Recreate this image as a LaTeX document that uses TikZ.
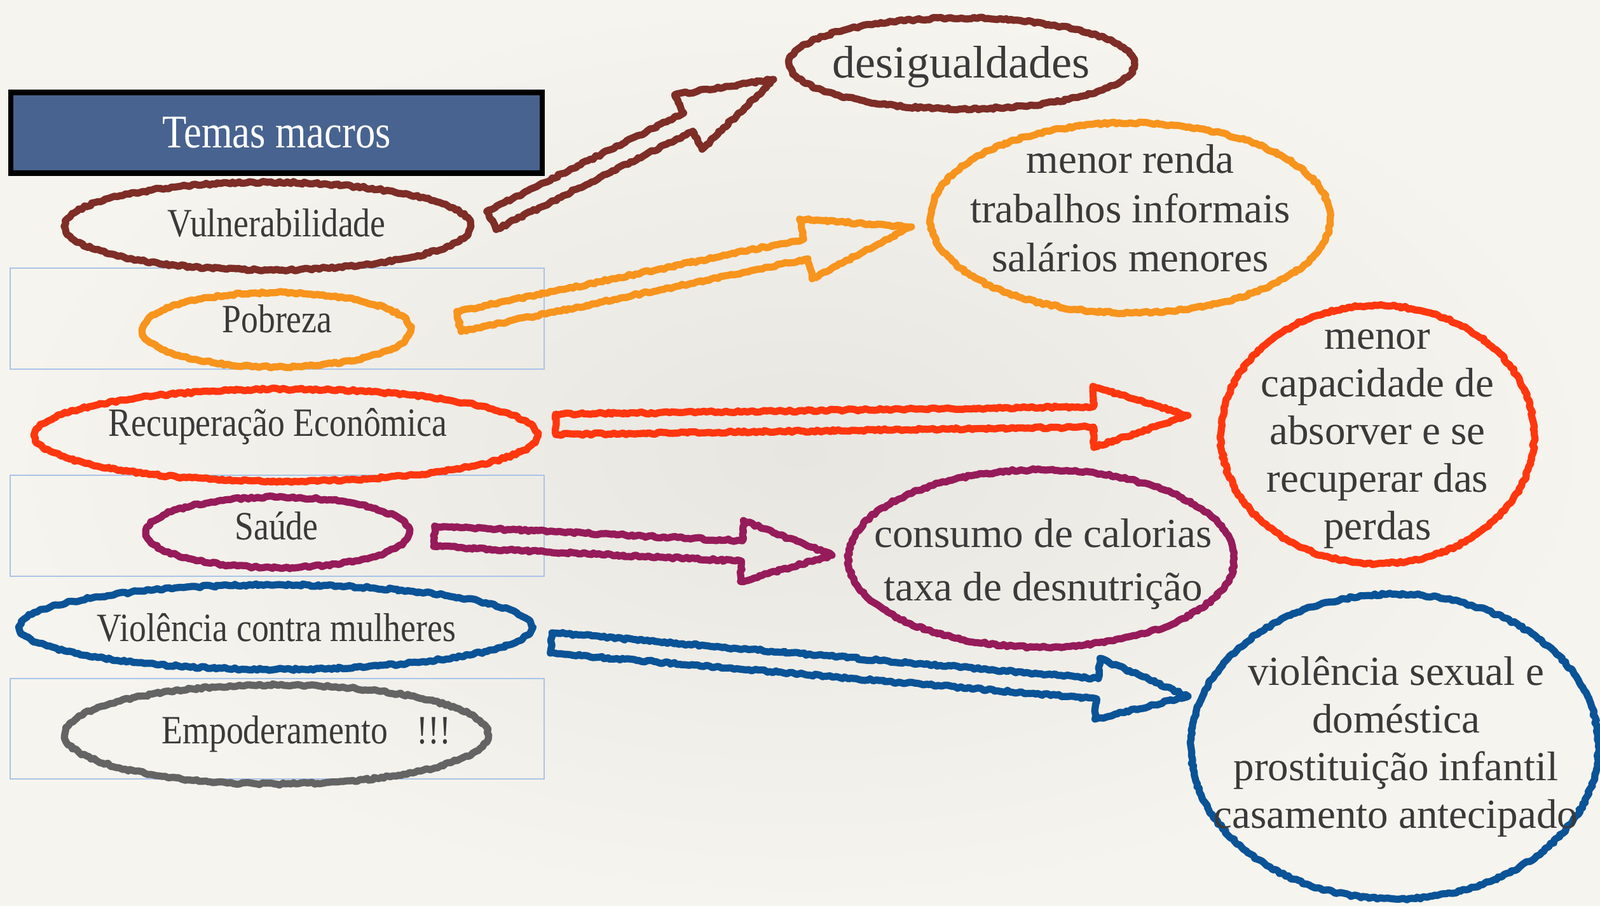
\documentclass[tikz,border=0pt]{standalone}
\usepackage{fontspec}
\setmainfont{Liberation Serif}
\newfontfamily\narrowserif[FakeStretch=0.85]{Liberation Serif}
\usetikzlibrary{calc,shapes.geometric,decorations.pathmorphing}
\definecolor{brick}{RGB}{126,45,39}
\definecolor{amber}{RGB}{247,148,29}
\definecolor{flame}{RGB}{255,55,15}
\definecolor{plum}{RGB}{150,27,90}
\definecolor{navy}{RGB}{10,83,150}
\definecolor{slate}{RGB}{100,100,100}
\definecolor{titleblue}{RGB}{72,99,143}
\definecolor{framelines}{RGB}{169,196,232}
\definecolor{ink}{RGB}{58,58,58}
\definecolor{paperlight}{RGB}{246,244,238}
\definecolor{paperdark}{RGB}{232,230,224}
\tikzset{
	crayon/.style={line width=3.2pt, line join=round, line cap=round, decorate,
		decoration={random steps, segment length=1.3pt, amplitude=0.5pt}},
	ring/.style={ellipse, draw=#1, crayon, inner sep=0pt},
	theme/.style={font=\narrowserif\fontsize{18}{21}\selectfont, text=ink, anchor=base},
	effect/.style={font=\fontsize{18.5}{21.3}\selectfont, text=ink, align=center},
}
\def\blockarrow[#1](#2)(#3:#4){
	\coordinate (hb) at ($(#3)!#4!(#2)$);
	\draw[crayon, #1] ($(#2)!0.16cm!90:(#3)$) -- ($(hb)!0.16cm!90:(#3)$) -- ($(hb)!0.48cm!90:(#3)$) -- (#3)
		-- ($(hb)!0.48cm!-90:(#3)$) -- ($(hb)!0.16cm!-90:(#3)$) -- ($(#2)!0.16cm!-90:(#3)$) -- cycle;
}

\begin{document}
\begin{tikzpicture}[x=1cm, y=-1cm]
			%%%%% START %%%%%
			
			\useasboundingbox (0,0) rectangle (25.17,14.26);
			\shade[inner color=paperdark, outer color=paperlight] (0,0) rectangle (25.17,14.26);
			
			\draw[framelines, line width=0.7pt] (0.16,4.22) rectangle (8.56,5.81);
			\draw[framelines, line width=0.7pt] (0.16,7.48) rectangle (8.56,9.07);
			\draw[framelines, line width=0.7pt] (0.16,10.68) rectangle (8.56,12.26);
			
			% temas
			\node[ring=brick, minimum width=6.39cm, minimum height=1.38cm] (vul) at (4.21,3.56) {};
			\node[ring=amber, minimum width=4.22cm, minimum height=1.17cm] (pob) at (4.35,5.19) {};
			\node[ring=flame, minimum width=7.91cm, minimum height=1.45cm] (rec) at (4.50,6.85) {};
			\node[ring=plum, minimum width=4.14cm, minimum height=1.11cm] (sau) at (4.37,8.38) {};
			\node[ring=navy, minimum width=8.06cm, minimum height=1.33cm] (vio) at (4.34,9.87) {};
			\node[ring=slate, minimum width=6.66cm, minimum height=1.56cm] (emp) at (4.35,11.56) {};
			
			\node[theme] (vul-t) at (4.35,3.72) {Vulnerabilidade};
			\node[theme] (pob-t) at (4.36,5.23) {Pobreza};
			\node[theme] (rec-t) at (4.37,6.86) {Recuperação Econômica};
			\node[theme] (sau-t) at (4.35,8.49) {Saúde};
			\node[theme] (vio-t) at (4.35,10.09) {Violência contra mulheres};
			\node[theme] (emp-t) at (4.82,11.70) {Empoderamento\hspace{0.46cm}!!!};
			
			% efeitos
			\node[ring=brick, minimum width=5.43cm, minimum height=1.43cm] (desig) at (15.13,1.00) {};
			\node[ring=amber, minimum width=6.29cm, minimum height=2.99cm] (renda) at (17.78,3.43) {};
			\node[ring=flame, minimum width=4.93cm, minimum height=4.06cm] (capac) at (21.67,6.84) {};
			\node[ring=plum, minimum width=6.07cm, minimum height=2.79cm] (calor) at (16.38,8.79) {};
			\node[ring=navy, minimum width=6.41cm, minimum height=4.80cm] (sexual) at (21.94,11.75) {};
			
			\node[effect, font=\fontsize{20.5}{24}\selectfont, anchor=base] (desig-t) at (15.12,1.23) {desigualdades};
			\node[effect, font=\fontsize{18.5}{22}\selectfont] (renda-t) at (17.78,3.28) {menor renda\\trabalhos informais\\salários menores};
			\node[effect] (capac-t) at (21.67,6.91) {menor\\capacidade de\\absorver e se\\recuperar das\\perdas};
			\node[effect, font=\fontsize{18.5}{24}\selectfont] (calor-t) at (16.41,8.88) {consumo de calorias\\taxa de desnutrição};
			\node[effect] (sexual-t) at (21.96,11.75) {violência sexual e\\doméstica\\prostituição infantil\\casamento antecipado};
			
			% setas
			\coordinate (vul-out) at (7.73,3.47);
			\coordinate (desig-in) at (12.17,1.25);
			\coordinate (pob-out) at (7.22,5.06);
			\coordinate (renda-in) at (14.34,3.57);
			\coordinate (rec-out) at (8.74,6.68);
			\coordinate (capac-in) at (18.69,6.54);
			\coordinate (sau-out) at (6.83,8.44);
			\coordinate (calor-in) at (13.09,8.74);
			\coordinate (vio-out) at (8.67,10.12);
			\coordinate (sexual-in) at (18.69,10.96);
			
			\blockarrow[brick](vul-out)(desig-in:1.5cm);
			\blockarrow[amber](pob-out)(renda-in:1.7cm);
			\blockarrow[flame](rec-out)(capac-in:1.49cm);
			\blockarrow[plum](sau-out)(calor-in:1.42cm);
			\blockarrow[navy](vio-out)(sexual-in:1.43cm);
			
			\node[draw=black, line width=2.3pt, fill=titleblue, minimum width=8.36cm, minimum height=1.27cm,
				inner sep=0pt, text=white, font=\narrowserif\fontsize{21}{24}\selectfont] (temas) at (4.35,2.09) {Temas macros};
			
			%%%%% END %%%%%
\end{tikzpicture}
\end{document}
